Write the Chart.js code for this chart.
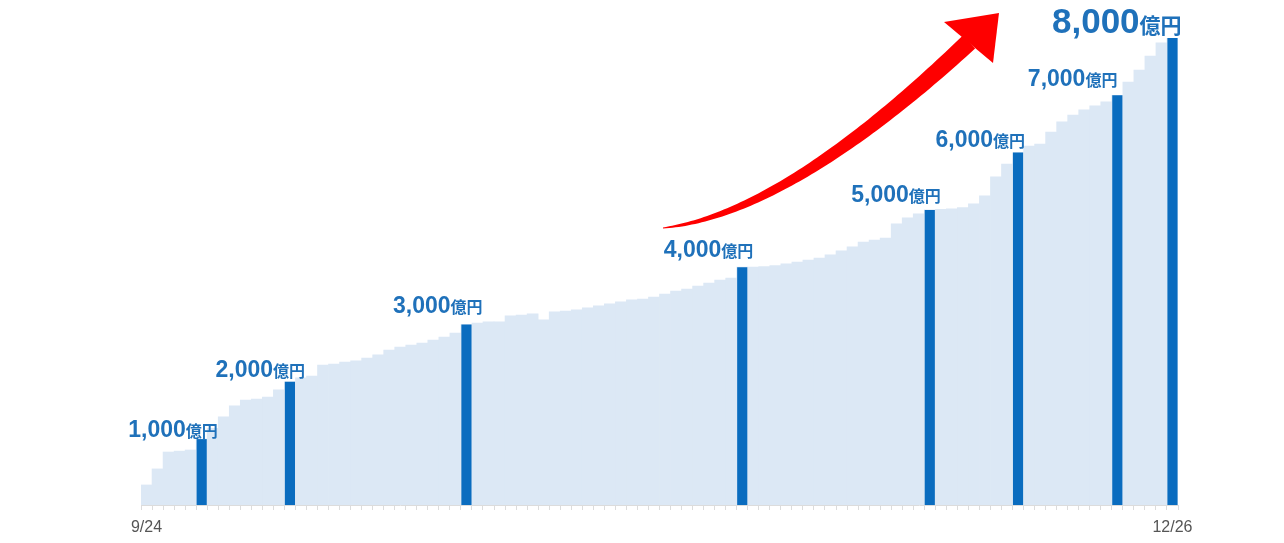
<!DOCTYPE html>
<html lang="ja">
<head>
<meta charset="utf-8">
<title>累計</title>
<script src="https://cdn.jsdelivr.net/npm/chart.js@4"></script>
<style>
  html, body { margin: 0; padding: 0; background: #fff; }
  #salesChart { display: block; }
</style>
</head>
<body>
<canvas id="salesChart" width="1284" height="543"></canvas>
<script>
const FONT = '"Liberation Sans", Arial, "Noto Sans CJK JP", sans-serif';

/* Data Value */
// one category per day, 9/24 .. 12/26
const dayLabels = [];
for (let d = new Date(2024, 8, 24); d <= new Date(2024, 11, 26); d.setDate(d.getDate() + 1)) {
  dayLabels.push(d.getMonth() + 1 + "/" + d.getDate());
}

// cumulative total per day (億円)
const cumulative = [
  200, 480, 775, 790, 810, 1000, 1190, 1390, 1580, 1680,
  1700, 1735, 1860, 2000, 2070, 2100, 2290, 2310, 2345, 2365,
  2415, 2470, 2555, 2605, 2640, 2675, 2730, 2780, 2850, 3000,
  3025, 3045, 3045, 3150, 3165, 3185, 3080, 3220, 3235, 3255,
  3290, 3325, 3360, 3395, 3430, 3445, 3480, 3530, 3585, 3620,
  3670, 3725, 3775, 3810, 4000, 4000, 4010, 4030, 4060, 4090,
  4125, 4160, 4215, 4285, 4355, 4440, 4475, 4510, 4755, 4860,
  4930, 5000, 5010, 5020, 5040, 5105, 5245, 5575, 5800, 6000,
  6115, 6150, 6360, 6535, 6655, 6745, 6815, 6885, 7000, 7230,
  7440, 7685, 7915, 8000,
];

// days on which each 1,000億円 mark was passed
const milestoneDates = ["9/29", "10/7", "10/23", "11/17", "12/4", "12/12", "12/21", "12/26"];
const milestoneValues = [1000, 2000, 3000, 4000, 5000, 6000, 7000, 8000];

const milestoneSeries = dayLabels.map((day) => {
  const k = milestoneDates.indexOf(day);
  return k === -1 ? null : milestoneValues[k];
});

/* Plugins */
const milestoneLabels = {
  id: "milestoneLabels",
  afterDatasetsDraw(chart, args, opts) {
    const { ctx } = chart;
    const meta = chart.getDatasetMeta(0);
    ctx.save();
    ctx.fillStyle = opts.color;
    ctx.textAlign = "right";
    ctx.textBaseline = "alphabetic";
    meta.data.forEach((bar, i) => {
      if (milestoneSeries[i] == null) return;
      const k = milestoneDates.indexOf(dayLabels[i]);
      const last = k === milestoneDates.length - 1;
      const right = bar.x + bar.width / 2 + opts.dx[k];
      const base = bar.y - opts.dy[k];

      ctx.font = `bold ${last ? 21 : 16}px ${FONT}`;
      ctx.fillText("億円", right, base);
      const unitW = ctx.measureText("億円").width;

      ctx.font = `bold ${last ? 35 : 23}px ${FONT}`;
      ctx.fillText(milestoneValues[k].toLocaleString("en-US"), right - unitW, base);
    });
    ctx.restore();
  },
};

// decorative red growth arrow
const growthArrow = {
  id: "growthArrow",
  afterDatasetsDraw(chart) {
    const { ctx, chartArea } = chart;
    const P = (x, y) => ({ x: chartArea.left + x, y: chartArea.top + y });
    const p0 = P(522, 190), p1 = P(645, 176), p2 = P(828, 4);
    const upper = [], lower = [];
    const N = 80;
    for (let i = 0; i <= N; i++) {
      const t = i / N, u = 1 - t;
      const x = u * u * p0.x + 2 * u * t * p1.x + t * t * p2.x;
      const y = u * u * p0.y + 2 * u * t * p1.y + t * t * p2.y;
      const dx = 2 * u * (p1.x - p0.x) + 2 * t * (p2.x - p1.x);
      const dy = 2 * u * (p1.y - p0.y) + 2 * t * (p2.y - p1.y);
      const len = Math.hypot(dx, dy);
      const nx = -dy / len, ny = dx / len;
      const w = 1 + 17 * Math.pow(t, 0.85);
      upper.push([x + (nx * w) / 2, y + (ny * w) / 2]);
      lower.push([x - (nx * w) / 2, y - (ny * w) / 2]);
    }
    ctx.save();
    ctx.fillStyle = "#fe0000";
    ctx.beginPath();
    ctx.moveTo(upper[0][0], upper[0][1]);
    upper.forEach((p) => ctx.lineTo(p[0], p[1]));
    lower.reverse().forEach((p) => ctx.lineTo(p[0], p[1]));
    ctx.closePath();
    ctx.fill();

    const tip = P(858, -25), bl = P(803, -16), br = P(852, 25);
    ctx.beginPath();
    ctx.moveTo(tip.x, tip.y);
    ctx.lineTo(bl.x, bl.y);
    ctx.lineTo(br.x, br.y);
    ctx.closePath();
    ctx.fill();
    ctx.restore();
  },
};

/* Chart */
const sales = document.querySelector("#salesChart");

const salesChart = new Chart(sales, {
  type: "bar",
  data: {
    labels: dayLabels,
    datasets: [
      {
        label: "節目",
        data: milestoneSeries,
        backgroundColor: "#0a6cbf",
        barPercentage: 0.92,
        categoryPercentage: 1,
        grouped: false,
        base: -150,
        order: 0,
      },
      {
        label: "累計",
        data: cumulative,
        backgroundColor: "#dce8f5",
        barPercentage: 1,
        categoryPercentage: 1,
        grouped: false,
        base: -150,
        order: 1,
      },
    ],
  },
  options: {
    responsive: false,
    animation: false,
    layout: {
      padding: { left: 141, right: 106, top: 38, bottom: 0 },
    },
    scales: {
      x: {
        offset: true,
        grid: {
          offset: true,
          drawOnChartArea: false,
          drawTicks: true,
          tickLength: 5,
          color: "#dcdcdc",
        },
        border: { display: true, color: "#dcdcdc" },
        ticks: {
          autoSkip: false,
          maxRotation: 0,
          minRotation: 0,
          padding: 8,
          color: "#555",
          font: { family: FONT, size: 16 },
          callback: (v, i) => (i === 0 || i === dayLabels.length - 1 ? dayLabels[i] : ""),
        },
        afterFit: (scale) => {
          scale.height = 38;
        },
      },
      y: {
        display: false,
        min: -150,
        max: 8000,
      },
    },
    plugins: {
      legend: { display: false },
      tooltip: { enabled: false },
      milestoneLabels: {
        color: "#1f71ba",
        dx: [11, 10, 11, 6, 6, 2, -5, 4],
        dy: [2, 5, 12, 10, 8, 6, 9, 5],
      },
    },
  },
  plugins: [growthArrow, milestoneLabels],
});
</script>
</body>
</html>
